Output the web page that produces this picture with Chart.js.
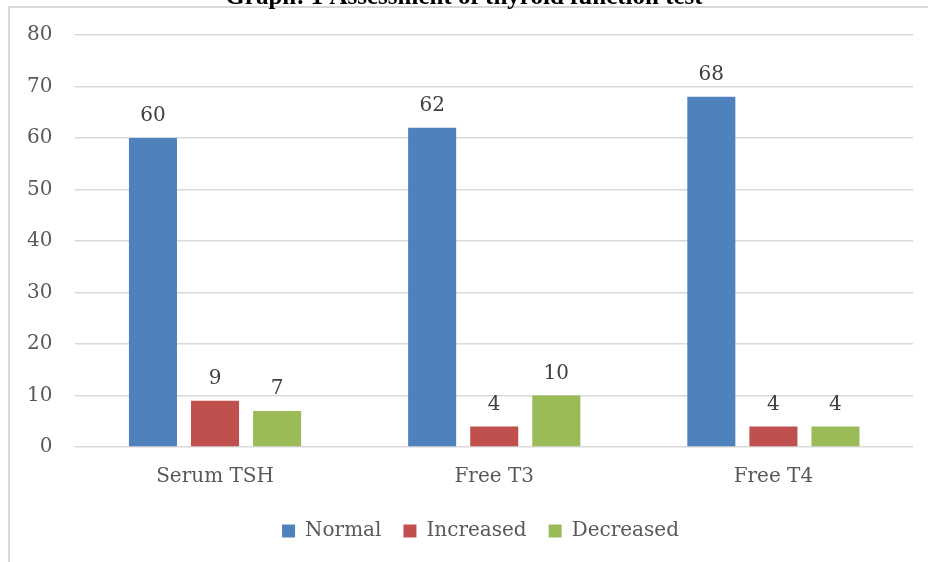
<!DOCTYPE html>
<html>
<head>
<meta charset="utf-8">
<script src="https://cdn.jsdelivr.net/npm/chart.js@4/dist/chart.umd.min.js"></script>
<style>
  html, body { margin: 0; padding: 0; background: #ffffff; }
  #wrap { position: relative; width: 928px; height: 562px; }
</style>
</head>
<body>
<div id="wrap"><canvas id="chart"></canvas></div>
<script>
// Thyroid function test results per category
const categories = ['Serum TSH', 'Free T3', 'Free T4'];
const normal = [60, 62, 68];
const increased = [9, 4, 4];
const decreased = [7, 10, 4];
const yTicks = [0, 10, 20, 30, 40, 50, 60, 70, 80];
const titleText = 'Graph: 1 Assessment of thyroid function test';

const FONT = '"DejaVu Serif", serif';

// Outer frame and the heading that sits above it
const framePlugin = {
  id: 'frame',
  afterLayout(chart) {
    // nudge the legend row to the right
    chart.legend.left += 22;
    chart.legend.right += 22;
  },
  beforeDraw(chart) {
    const ctx = chart.ctx;
    ctx.save();
    ctx.strokeStyle = '#d9d9d9';
    ctx.lineWidth = 2;
    ctx.strokeRect(9, 7, 940, 600);
    ctx.fillStyle = '#000000';
    ctx.font = 'bold 25px "Liberation Serif", serif';
    ctx.textAlign = 'center';
    ctx.textBaseline = 'alphabetic';
    ctx.fillText(titleText, 464, 4);
    ctx.restore();
  }
};

// Value labels above each bar
const valueLabels = {
  id: 'valueLabels',
  afterDatasetsDraw(chart) {
    const ctx = chart.ctx;
    ctx.save();
    ctx.font = '20px ' + FONT;
    ctx.fillStyle = '#404040';
    ctx.textAlign = 'center';
    ctx.textBaseline = 'bottom';
    chart.data.datasets.forEach((ds, i) => {
      chart.getDatasetMeta(i).data.forEach((bar, j) => {
        ctx.fillText(String(ds.data[j]), bar.x, bar.y - 12);
      });
    });
    ctx.restore();
  }
};

new Chart(document.getElementById('chart'), {
  type: 'bar',
  data: {
    labels: categories,
    datasets: [
      { label: 'Normal', data: normal, backgroundColor: '#4f81bd' },
      { label: 'Increased', data: increased, backgroundColor: '#c0504d' },
      { label: 'Decreased', data: decreased, backgroundColor: '#9bbb59' }
    ]
  },
  options: {
    responsive: true,
    maintainAspectRatio: false,
    animation: false,
    categoryPercentage: 0.667,
    barPercentage: 0.774,
    layout: { padding: { left: 4, right: 15, top: 29, bottom: 11 } },
    scales: {
      x: {
        grid: { display: false },
        border: { display: false },
        ticks: { color: '#595959', font: { family: FONT, size: 20 }, padding: 10 }
      },
      y: {
        min: 0,
        max: 80,
        afterBuildTicks(axis) { axis.ticks = yTicks.map(v => ({ value: v })); },
        grid: { color: '#d9d9d9', lineWidth: 1.5, drawTicks: false },
        border: { display: false },
        ticks: { color: '#595959', font: { family: FONT, size: 20 }, padding: 23 }
      }
    },
    plugins: {
      legend: {
        position: 'bottom',
        labels: {
          color: '#595959',
          font: { family: FONT, size: 20 },
          boxWidth: 13,
          boxHeight: 13,
          padding: 22
        }
      },
      tooltip: { enabled: false }
    }
  },
  plugins: [framePlugin, valueLabels]
});
</script>
</body>
</html>
